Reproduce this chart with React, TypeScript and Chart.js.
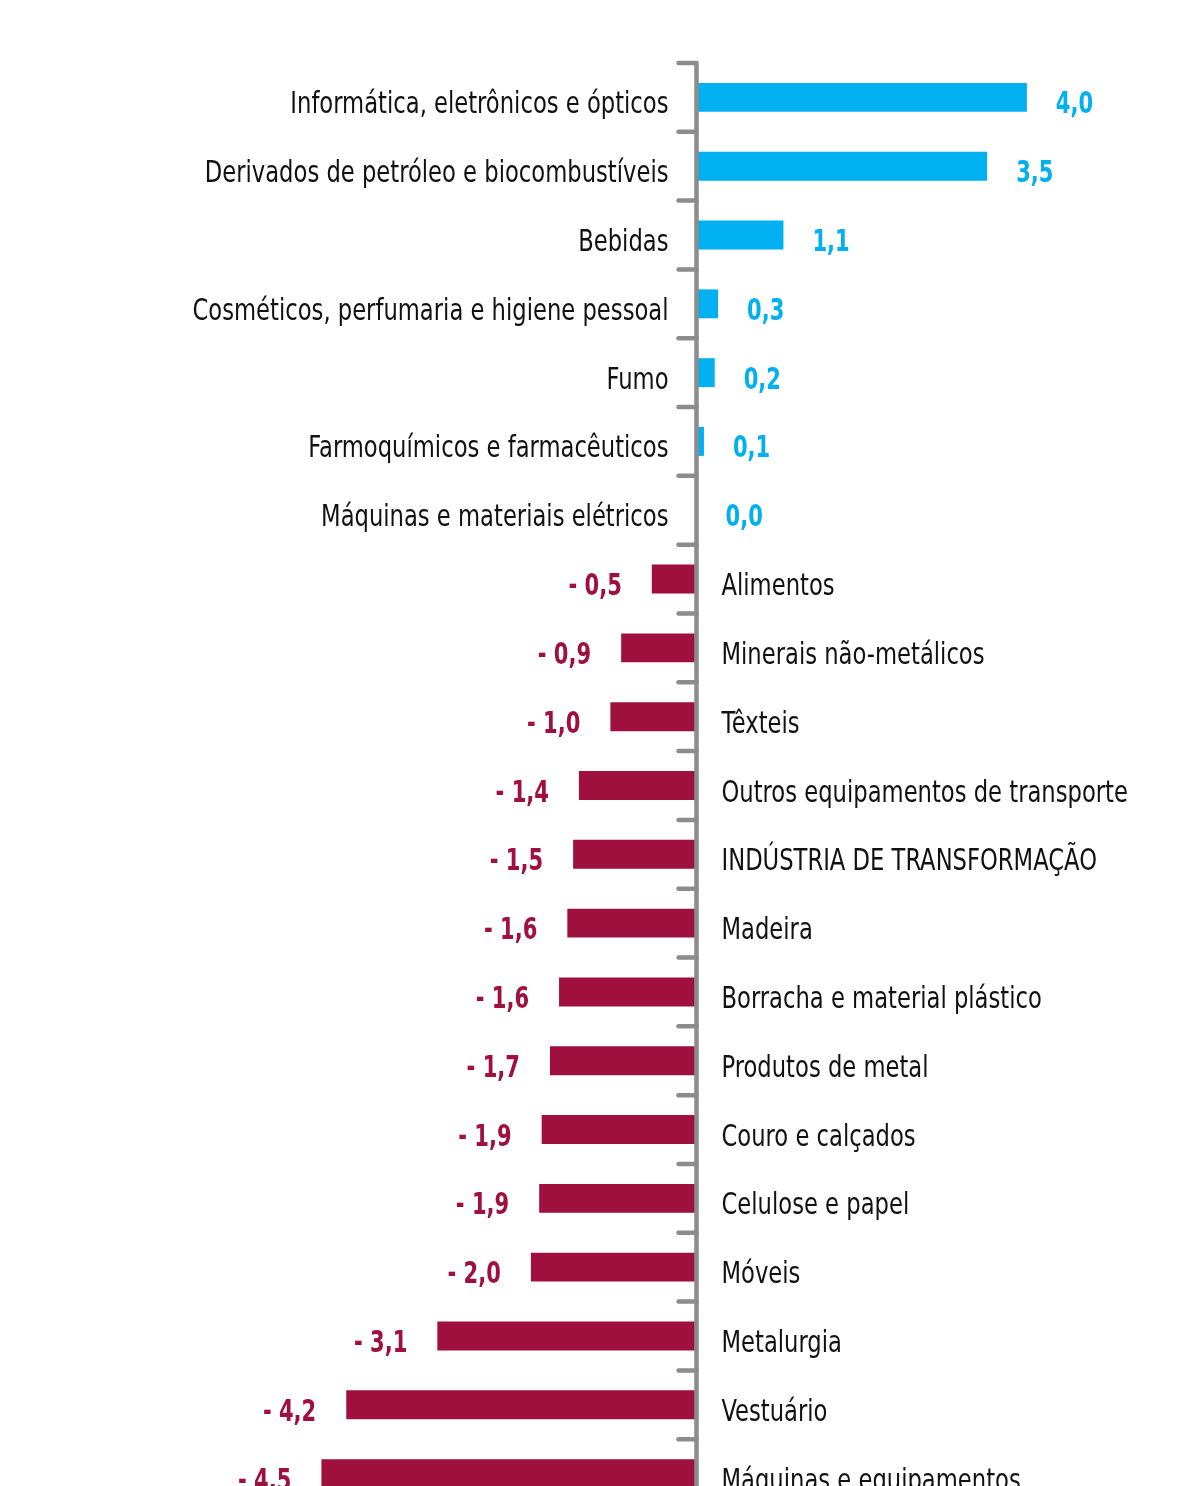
import React, { useEffect, useRef } from "react";
import { Chart, registerables } from "chart.js";

Chart.register(...registerables);

const categories: string[] = [
  "Informática, eletrônicos e ópticos",
  "Derivados de petróleo e biocombustíveis",
  "Bebidas",
  "Cosméticos, perfumaria e higiene pessoal",
  "Fumo",
  "Farmoquímicos e farmacêuticos",
  "Máquinas e materiais elétricos",
  "Alimentos",
  "Minerais não-metálicos",
  "Têxteis",
  "Outros equipamentos de transporte",
  "INDÚSTRIA DE TRANSFORMAÇÃO",
  "Madeira",
  "Borracha e material plástico",
  "Produtos de metal",
  "Couro e calçados",
  "Celulose e papel",
  "Móveis",
  "Metalurgia",
  "Vestuário",
  "Máquinas e equipamentos",
];

const values: number[] = [
  3.99, 3.51, 1.05, 0.26, 0.22, 0.09, 0.0, -0.54, -0.91, -1.04, -1.42, -1.49,
  -1.56, -1.66, -1.77, -1.87, -1.9, -2.0, -3.13, -4.23, -4.53,
];

const valueLabels: string[] = [
  "4,0", "3,5", "1,1", "0,3", "0,2", "0,1", "0,0", "- 0,5", "- 0,9", "- 1,0",
  "- 1,4", "- 1,5", "- 1,6", "- 1,6", "- 1,7", "- 1,9", "- 1,9", "- 2,0",
  "- 3,1", "- 4,2", "- 4,5",
];

const POS_COLOR = "#00b0f0";
const NEG_COLOR = "#a0103f";
const AXIS_COLOR = "#8c8c8c";
const FONT_FAMILY = "'Liberation Sans Narrow', 'DejaVu Sans Condensed', 'Roboto', sans-serif";
const LABEL_SCALE_X = 0.84;
const VALUE_SCALE_X = 0.78;

const CANVAS_W = 1201;
const CANVAS_H = 1530;

function drawText(
  ctx: CanvasRenderingContext2D,
  text: string,
  x: number,
  y: number,
  align: CanvasTextAlign,
  sx: number
) {
  ctx.save();
  ctx.translate(x, y);
  ctx.scale(sx, 1);
  ctx.textAlign = align;
  ctx.fillText(text, 0, 0);
  ctx.restore();
}

const labelPlugin = {
  id: "customAxisLabels",
  afterDatasetsDraw(chart: any) {
    const ctx = chart.ctx as CanvasRenderingContext2D;
    const xs = chart.scales.x;
    const ys = chart.scales.y;
    const x0 = xs.getPixelForValue(0);
    const band = ys.getPixelForValue(1) - ys.getPixelForValue(0);
    const n = categories.length;
    const top = ys.getPixelForValue(0) - band / 2;
    const bottom = ys.getPixelForValue(n - 1) + band / 2;

    ctx.save();
    ctx.strokeStyle = AXIS_COLOR;
    ctx.lineWidth = 4.5;
    ctx.lineCap = "round";
    ctx.lineJoin = "round";
    ctx.beginPath();
    ctx.moveTo(x0 - 18, top);
    ctx.lineTo(x0, top);
    ctx.lineTo(x0, bottom + 40);
    ctx.stroke();
    for (let i = 1; i <= n; i++) {
      const y = ys.getPixelForValue(i) - band / 2;
      ctx.beginPath();
      ctx.moveTo(x0 - 18, y);
      ctx.lineTo(x0, y);
      ctx.stroke();
    }

    ctx.textBaseline = "alphabetic";
    for (let i = 0; i < n; i++) {
      const v = values[i];
      const yb = ys.getPixelForValue(i) + 16;
      const xe = xs.getPixelForValue(v);
      ctx.font = `30px ${FONT_FAMILY}`;
      ctx.fillStyle = "#111111";
      if (v >= 0) {
        drawText(ctx, categories[i], x0 - 28, yb, "right", LABEL_SCALE_X);
        ctx.font = `bold 30px ${FONT_FAMILY}`;
        ctx.fillStyle = POS_COLOR;
        drawText(ctx, valueLabels[i], Math.max(xe, x0) + 29, yb, "left", VALUE_SCALE_X);
      } else {
        drawText(ctx, categories[i], x0 + 25, yb, "left", LABEL_SCALE_X);
        ctx.font = `bold 30px ${FONT_FAMILY}`;
        ctx.fillStyle = NEG_COLOR;
        drawText(ctx, valueLabels[i], xe - 30, yb, "right", VALUE_SCALE_X);
      }
    }
    ctx.restore();
  },
};

export default function App() {
  const ref = useRef<HTMLCanvasElement>(null);

  useEffect(() => {
    if (!ref.current) return;
    const zeroX = 696.5;
    const pxPerUnit = 82.8;
    const chart = new Chart(ref.current, {
      type: "bar",
      data: {
        labels: categories,
        datasets: [
          {
            data: values,
            backgroundColor: values.map((v) => (v >= 0 ? POS_COLOR : NEG_COLOR)),
            borderWidth: 0,
            barPercentage: 0.42,
            categoryPercentage: 1,
          },
        ],
      },
      options: {
        indexAxis: "y",
        animation: false,
        responsive: false,
        devicePixelRatio: 1,
        layout: { padding: { top: 63, bottom: CANVAS_H - 1508, left: 0, right: 0 } },
        plugins: {
          legend: { display: false },
          tooltip: { enabled: false },
        },
        scales: {
          x: {
            type: "linear",
            display: false,
            min: -zeroX / pxPerUnit,
            max: (CANVAS_W - zeroX) / pxPerUnit,
          },
          y: {
            type: "category",
            display: false,
            offset: true,
          },
        },
      },
      plugins: [labelPlugin],
    });
    return () => chart.destroy();
  }, []);

  return (
    <div
      style={{
        position: "fixed",
        top: 0,
        left: 0,
        width: CANVAS_W,
        height: 1486,
        overflow: "hidden",
        background: "#ffffff",
      }}
    >
      <canvas ref={ref} width={CANVAS_W} height={CANVAS_H} style={{ display: "block" }} />
    </div>
  );
}
